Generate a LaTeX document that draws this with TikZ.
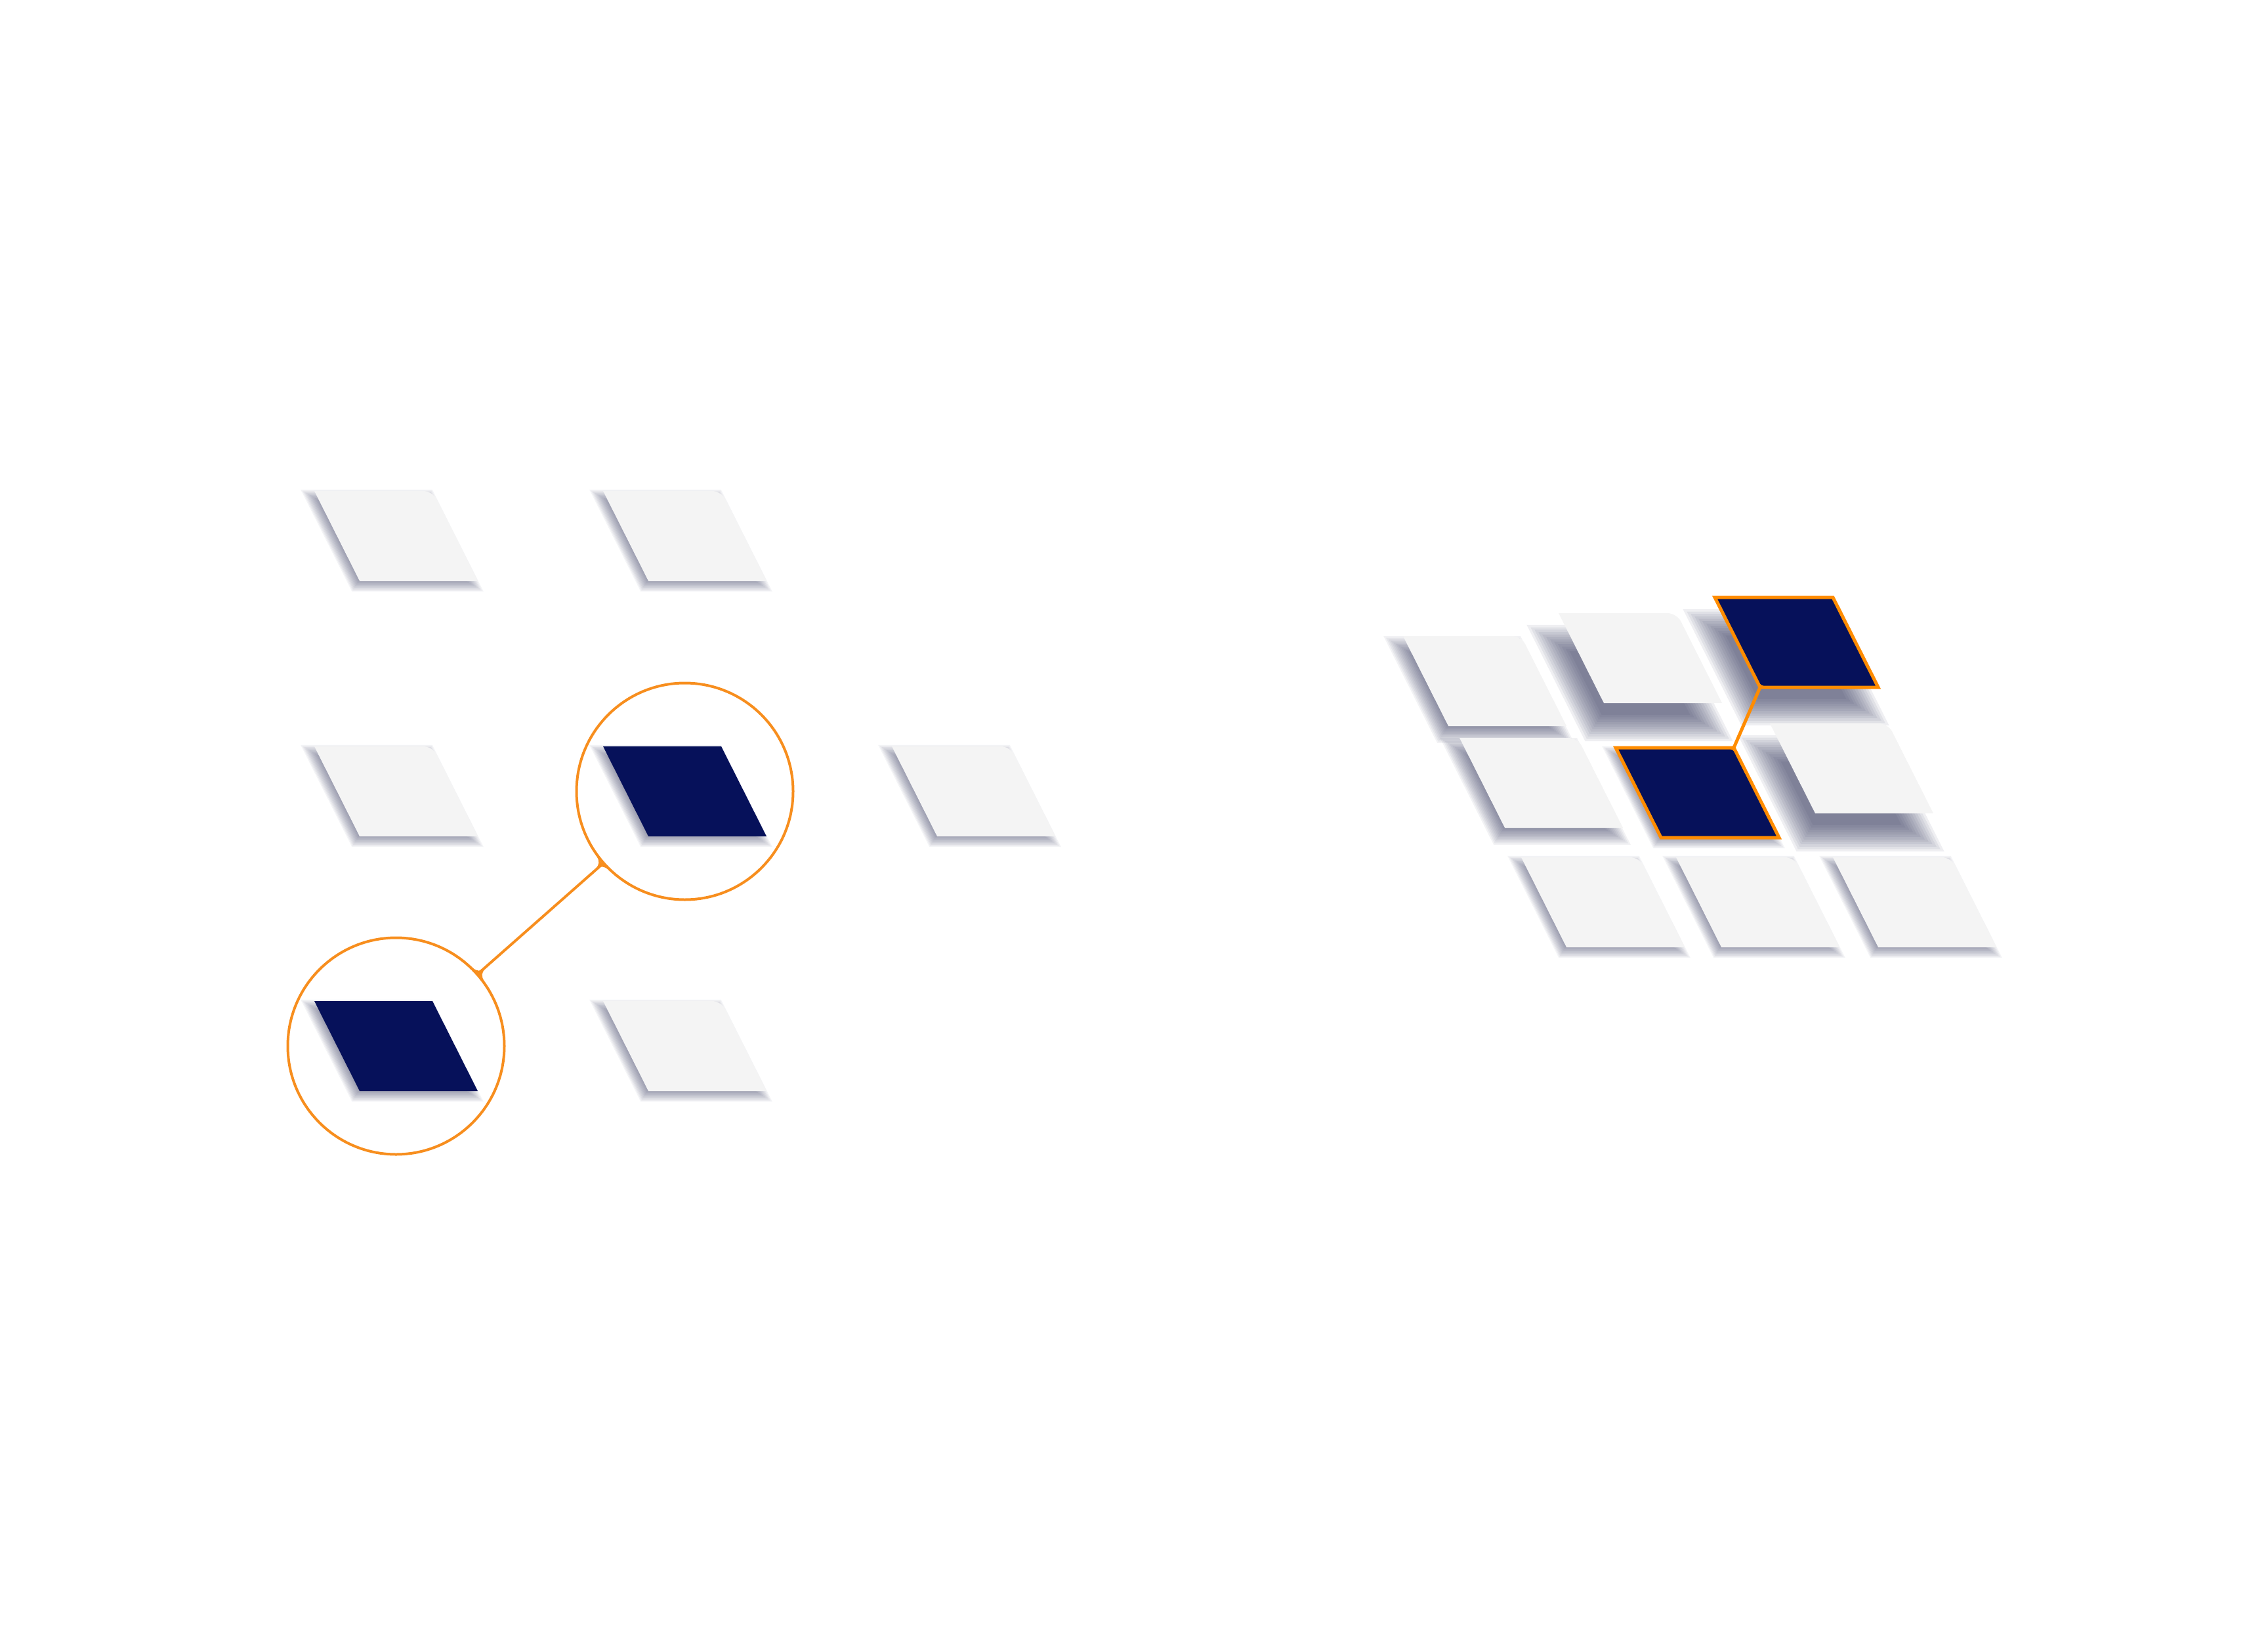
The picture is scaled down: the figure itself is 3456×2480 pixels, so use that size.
\documentclass[tikz,border=0pt]{standalone}
\usetikzlibrary{calc}
\definecolor{tilegray}{HTML}{F4F4F4}
\definecolor{navy}{HTML}{06115A}
\definecolor{linkorange}{HTML}{F78E1E}
\definecolor{edgeorange}{HTML}{FF8C00}
\definecolor{shadowblue}{HTML}{2B2F55}
\tikzset{
  pics/haze/.style args={#1/#2/#3/#4}{code={
    \foreach \k in {1,...,12}{
      \pgfmathsetmacro{\r}{#3*(2*\k-13)/12}
      \fill[shadowblue, fill opacity=#4] ({#1-1.62*(\r)},{#2-(\r)}) -- ({#1+180+0.62*(\r)},{#2-(\r)})
        -- ({#1+249+1.62*(\r)},{#2+137+(\r)}) -- ({#1+69-0.62*(\r)},{#2+137+(\r)}) -- cycle;
    }
  }},
  pics/low/.style={haze=-6/7/10/0.056},
  pics/mid/.style={haze=-9/13/14/0.064},
  pics/deep/.style={haze=-16/38/22/0.076},
  tile/.style={fill=tilegray},
  darktile/.style={fill=navy},
  link/.style={draw=linkorange, line width=4pt},
  edge/.style={draw=edgeorange, line width=5pt, line cap=round},
  ring/.style={circle, draw=linkorange, line width=4pt, minimum size=330pt, inner sep=0pt}
}
\begin{document}
\begin{tikzpicture}[x=1pt, y=-1pt]
    \useasboundingbox (0,0) rectangle (3456,2480);
    \coordinate (l11) at (479,748);
    \coordinate (l12) at (919,748);
    \coordinate (l21) at (479,1137);
    \coordinate (l22) at (919,1137);
    \coordinate (l23) at (1359,1137);
    \coordinate (l31) at (479,1525);
    \coordinate (l32) at (919,1525);
    \pic at (l11) {low};
    \fill[tile] (l11) [rounded corners=14pt] -- ++(180,0) [sharp corners] -- ++(69,137) -- ++(-180,0) -- cycle;
    \pic at (l12) {low};
    \fill[tile] (l12) [rounded corners=14pt] -- ++(180,0) [sharp corners] -- ++(69,137) -- ++(-180,0) -- cycle;
    \pic at (l21) {low};
    \fill[tile] (l21) [rounded corners=14pt] -- ++(180,0) [sharp corners] -- ++(69,137) -- ++(-180,0) -- cycle;
    \pic at (l22) {low};
    \fill[darktile] (l22) -- ++(180,0) -- ++(69,137) -- ++(-180,0) -- cycle;
    \pic at (l23) {low};
    \fill[tile] (l23) [rounded corners=14pt] -- ++(180,0) [sharp corners] -- ++(69,137) -- ++(-180,0) -- cycle;
    \pic at (l31) {low};
    \fill[darktile] (l31) -- ++(180,0) -- ++(69,137) -- ++(-180,0) -- cycle;
    \pic at (l32) {low};
    \fill[tile] (l32) [rounded corners=14pt] -- ++(180,0) [sharp corners] -- ++(69,137) -- ++(-180,0) -- cycle;
    \node[ring] (ring1) at ($(l31)+(124.5,68.5)$) {};
    \node[ring] (ring2) at ($(l22)+(124.5,68.5)$) {};
    \draw[link] (ring1) -- (ring2);
    \fill[linkorange] (ring1.52) .. controls (ring1.41) .. ($(ring1.41)!30pt!(ring2.221)$) .. controls (ring1.41) .. (ring1.30) -- (ring1.41) -- cycle;
    \fill[linkorange] (ring2.232) .. controls (ring2.221) .. ($(ring2.221)!30pt!(ring1.41)$) .. controls (ring2.221) .. (ring2.210) -- (ring2.221) -- cycle;

    \coordinate (r11) at (2138,969);
    \coordinate (r12) at (2375,934);
    \coordinate (r13) at (2613,910);
    \coordinate (r21) at (2224,1124);
    \coordinate (r22) at (2462,1139);
    \coordinate (r23) at (2697,1102);
    \coordinate (r31) at (2318,1306);
    \coordinate (r32) at (2554,1306);
    \coordinate (r33) at (2793,1306);
    \coordinate (r13br) at ($(r13)+(249,137)$);
    \coordinate (r13bl) at ($(r13)+(69,137)$);
    \coordinate (r22tr) at ($(r22)+(180,0)$);
    \coordinate (r22br) at ($(r22)+(249,137)$);
    \pic at (r11) {mid};
    \fill[tile] (r11) [rounded corners=14pt] -- ++(180,0) [sharp corners] -- ++(69,137) -- ++(-180,0) -- cycle;
    \pic at (r12) {deep};
    \fill[tile] (r12) [rounded corners=14pt] -- ++(180,0) [sharp corners] -- ++(69,137) -- ++(-180,0) -- cycle;
    \pic at (r13) {deep};
    \fill[edgeorange] (r13) -- ++(180,0) -- (r13br) -- (r13bl) -- cycle;
    \fill[darktile] (r13) -- ++(180,0) -- (r13br) -- ($(r13bl)!32pt!(r13br)$) .. controls (r13bl) .. ($(r13bl)!32pt!(r13)$) -- cycle;
    \draw[edge] (r13) -- ++(180,0) -- (r13br) -- (r13bl) -- cycle;
    \pic at (r21) {mid};
    \fill[tile] (r21) [rounded corners=14pt] -- ++(180,0) [sharp corners] -- ++(69,137) -- ++(-180,0) -- cycle;
    \pic at (r22) {low};
    \fill[edgeorange] (r22) -- (r22tr) -- (r22br) -- ++(-180,0) -- cycle;
    \fill[darktile] (r22) -- ($(r22tr)!32pt!(r22)$) .. controls (r22tr) .. ($(r22tr)!32pt!(r22br)$) -- (r22br) -- ++(-180,0) -- cycle;
    \draw[edge] (r22) -- (r22tr) -- (r22br) -- ++(-180,0) -- cycle;
    \pic at (r23) {deep};
    \fill[tile] (r23) [rounded corners=14pt] -- ++(180,0) [sharp corners] -- ++(69,137) -- ++(-180,0) -- cycle;
    \pic at (r31) {low};
    \fill[tile] (r31) [rounded corners=14pt] -- ++(180,0) [sharp corners] -- ++(69,137) -- ++(-180,0) -- cycle;
    \pic at (r32) {low};
    \fill[tile] (r32) [rounded corners=14pt] -- ++(180,0) [sharp corners] -- ++(69,137) -- ++(-180,0) -- cycle;
    \pic at (r33) {low};
    \fill[tile] (r33) [rounded corners=14pt] -- ++(180,0) [sharp corners] -- ++(69,137) -- ++(-180,0) -- cycle;
    \draw[edge] (r13bl) -- (r22tr);
    \fill[edgeorange] ($(r13bl)!22pt!(r13br)$) .. controls (r13bl) .. ($(r13bl)!22pt!(r22tr)$) -- (r13bl) -- cycle;
    \fill[edgeorange] ($(r22tr)!22pt!(r22)$) .. controls (r22tr) .. ($(r22tr)!22pt!(r13bl)$) -- (r22tr) -- cycle;
\end{tikzpicture}
\end{document}
